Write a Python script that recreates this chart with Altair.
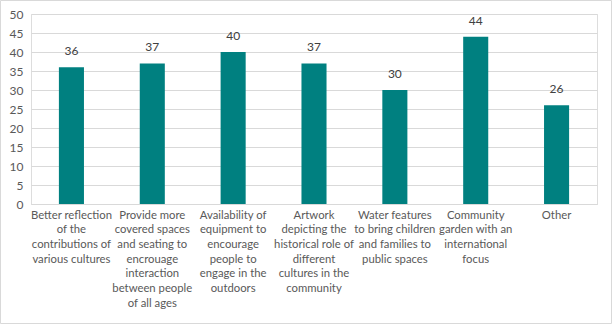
import altair as alt
import pandas as pd

labels = [
    "Better reflection|of the|contributions of|various cultures",
    "Provide more|covered spaces|and seating to|encrouage|interaction|between people|of all ages",
    "Availability of|equipment to|encourage|people to|engage in the|outdoors",
    "Artwork|depicting the|historical role of|different|cultures in the|community",
    "Water features|to bring children|and families to|public spaces",
    "Community|garden with an|international|focus",
    "Other",
]
values = [36, 37, 40, 37, 30, 44, 26]
y_ticks = [0, 5, 10, 15, 20, 25, 30, 35, 40, 45, 50]

df = pd.DataFrame({"cat": labels, "val": values})
FONT = "Lato"

x = alt.X("cat:N", sort=labels, title=None,
          scale=alt.Scale(paddingInner=0.69, paddingOuter=0.345),
          axis=alt.Axis(labelAngle=0, labelExpr="split(datum.label, '|')",
                        labelLimit=0, labelLineHeight=14.7, labelFontSize=11.3,
                        labelFont=FONT, labelColor="#595959", labelPadding=5,
                        ticks=False, domainColor="#d9d9d9", labelBaseline="top"))
y = alt.Y("val:Q", title=None,
          scale=alt.Scale(domain=[0, 50], nice=False),
          axis=alt.Axis(values=y_ticks, ticks=False, domain=False, labelOverlap=False,
                        gridColor="#d9d9d9", labelFontSize=12, labelFont=FONT,
                        labelColor="#595959", labelPadding=8))

base = alt.Chart(df).encode(x=x, y=y)
bars = base.mark_bar(color="#008080")
text = base.mark_text(dy=-9, baseline="bottom", fontSize=12, font=FONT,
                      color="#404040").encode(text="val:Q")
border = alt.Chart(pd.DataFrame({"a": [0]})).mark_rect(
    fill=None, stroke="#d9d9d9", strokeWidth=1).encode(
    x=alt.value(-30.5), x2=alt.value(580.5), y=alt.value(-13.5), y2=alt.value(309.5))

chart = alt.layer(bars, text, border).properties(
    width=566, height=190,
    autosize=alt.AutoSizeParams(type="none"),
    padding={"left": 31, "top": 14, "right": 15, "bottom": 120},
).configure_view(stroke=None).configure(background="white")

chart.save("out.html", embed_options={"renderer": "svg", "actions": False})
